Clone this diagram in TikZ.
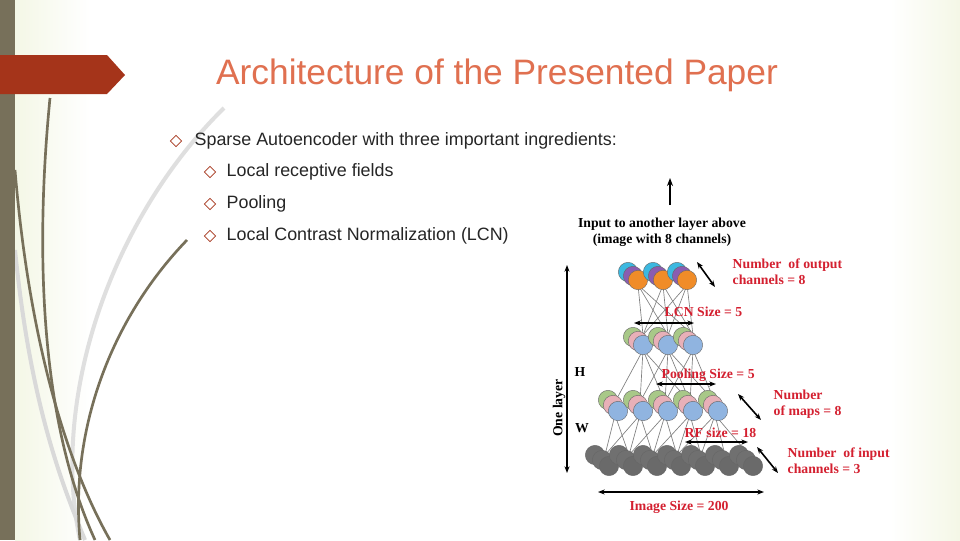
\documentclass[tikz,border=0pt]{standalone}
\usepackage{fontspec}
\setmainfont{Liberation Sans}
\newfontfamily\serifb{Liberation Serif}
\usetikzlibrary{arrows.meta}
\definecolor{olive}{HTML}{77705A}
\definecolor{banner}{HTML}{A5341A}
\definecolor{ttl}{HTML}{E07050}
\definecolor{lred}{HTML}{D42030}
\definecolor{cc}{HTML}{3CB8E0}\definecolor{cp}{HTML}{8A5CB0}\definecolor{co}{HTML}{F08C28}
\definecolor{cg}{HTML}{A8C888}\definecolor{cpk}{HTML}{E8B0B8}\definecolor{cb}{HTML}{90B4E0}
\definecolor{bgl}{HTML}{F4F7E6}
\begin{document}
\begin{tikzpicture}[x=0.75pt,y=-0.75pt,
  dia/.style={draw=banner,line width=0.5pt,minimum size=6pt,inner sep=0pt,rotate=45,shape=rectangle},
  bul/.style={anchor=west,font=\fontsize{13.4}{15}\selectfont,text=black!85},
  lbl/.style={font=\serifb\bfseries\fontsize{10.3}{12}\selectfont,anchor=west,text=lred,align=left},
  blk/.style={font=\serifb\bfseries\fontsize{10.3}{12}\selectfont},
  dbl/.style={{Stealth[length=5pt]}-{Stealth[length=5pt]},line width=1.2pt},
  ball/.style={circle,draw=black!60,line width=0.3pt,minimum size=14.5pt,inner sep=0pt},
  wire/.style={draw=gray,line width=0.5pt}]
\useasboundingbox (0,0) rectangle (960,540);
\shade[left color=bgl,right color=white] (15,0) rectangle (90,540);
\fill[white] (90,0) rectangle (960,540);
\shade[left color=white,right color=bgl] (890,0) rectangle (960,540);
% stems
\begin{scope}[line width=2pt]
\draw[gray!25,line width=3pt] (224,108) .. controls (110,220) and (50,400) .. (80,540);
\draw[gray!30,line width=3pt] (15,250) .. controls (30,400) and (60,480) .. (85,540);
\draw[olive] (50,98) .. controls (35,250) and (40,420) .. (95,540);
\draw[olive] (15,170) .. controls (30,350) and (70,470) .. (110,540);
\draw[olive] (187,240) .. controls (110,320) and (70,430) .. (80,540);
\end{scope}
\fill[olive] (0,0) rectangle (15,540);
\fill[banner] (0,55) -- (107,55) -- (125,75) -- (107,94) -- (0,94) -- cycle;
\node[text=ttl,font=\fontsize{26.5}{30}\selectfont] (title) at (497,75) {Architecture of the Presented Paper};
\node[dia] (d0) at (176,141) {};
\node[bul] (t0) at (190,141) {Sparse Autoencoder with three important ingredients:};
\foreach \y/\t [count=\i] in {172/Local receptive fields,204/Pooling,236/Local Contrast Normalization (LCN)}{
  \node[dia] (d\i) at (210,\y) {};
  \node[bul] (t\i) at (222,\y) {\t};}
% wires
\foreach \a in {605,630,655,680,705}{\foreach \b in {600,624,648,672,696,720,744}{
  \pgfmathparse{abs(\a-\b)<40?1:0}\ifnum\pgfmathresult=1 \draw[wire] (\a+10,415) -- (\b+5,455);\fi}}
\foreach \a in {633,658,683}{\foreach \b in {605,630,655,680,705}{
  \pgfmathparse{abs(\a-\b)<50?1:0}\ifnum\pgfmathresult=1 \draw[wire] (\a+10,350) -- (\b+10,402);\fi}}
\foreach \a in {628,653,677}{\foreach \b in {633,658,683}{\draw[wire] (\a+10,285) -- (\b+10,335);}}
% bottom layer
\foreach \x [count=\i] in {595,619,643,667,691,715,739}{
  \node[ball,fill=gray!75!black!90] (g\i a) at (\x,455) {};
  \node[ball,fill=gray!75!black!90] (g\i b) at (\x+7,460) {};
  \node[ball,fill=gray!70!black!90] (g\i c) at (\x+14,466) {};}
\foreach \x [count=\i] in {608,633,658,683,708}{
  \node[ball,fill=cg] (p\i a) at (\x,400) {};
  \node[ball,fill=cpk] (p\i b) at (\x+5,405) {};
  \node[ball,fill=cb] (p\i c) at (\x+10,411) {};}
\foreach \x [count=\i] in {633,658,683}{
  \node[ball,fill=cg] (l\i a) at (\x,337) {};
  \node[ball,fill=cpk] (l\i b) at (\x+5,341) {};
  \node[ball,fill=cb] (l\i c) at (\x+10,345) {};}
\foreach \x [count=\i] in {628,653,677}{
  \node[ball,fill=cc] (o\i a) at (\x,272) {};
  \node[ball,fill=cp] (o\i b) at (\x+5,276) {};
  \node[ball,fill=co] (o\i c) at (\x+10,280) {};}
% arrows and labels
\coordinate (up0) at (670,205); \coordinate (up1) at (670,178);
\draw[-{Stealth[length=6pt]},line width=1.5pt] (up0) -- (up1);
\node[blk,align=center] (inp) at (662,232) {Input to another layer above\\(image with 8 channels)};
\coordinate (ol0) at (567,265); \coordinate (ol1) at (567,473);
\draw[dbl] (ol0) -- (ol1);
\node[blk,rotate=90] (one) at (559,408) {One layer};
\node[blk] (H) at (580,372) {H};
\node[blk] (W) at (582,428) {W};
\coordinate (a1) at (697,262); \coordinate (a2) at (715,287); \draw[dbl] (a1) -- (a2);
\node[lbl] (oc) at (728,272) {Number\ \ of output\\channels = 8};
\coordinate (b1) at (634,323); \coordinate (b2) at (694,323); \draw[dbl] (b1) -- (b2);
\node[lbl] (lcn) at (660,312) {LCN Size = 5};
\coordinate (c1) at (656,384); \coordinate (c2) at (716,384); \draw[dbl] (c1) -- (c2);
\node[lbl] (pool) at (657,375) {Pooling Size = 5};
\coordinate (e1) at (738,394); \coordinate (e2) at (761,420); \draw[dbl] (e1) -- (e2);
\node[lbl] (maps) at (769,404) {Number\\of maps = 8};
\coordinate (f1) at (685,442); \coordinate (f2) at (748,442); \draw[dbl] (f1) -- (f2);
\node[lbl] (rf) at (680,433) {RF size = 18};
\coordinate (h1) at (757,447); \coordinate (h2) at (778,473); \draw[dbl] (h1) -- (h2);
\node[lbl] (ic) at (783,461) {Number\ \ of input\\channels = 3};
\coordinate (i1) at (598,492); \coordinate (i2) at (764,492); \draw[dbl] (i1) -- (i2);
\node[lbl,anchor=center] (is) at (679,507) {Image Size = 200};
\end{tikzpicture}
\end{document}
